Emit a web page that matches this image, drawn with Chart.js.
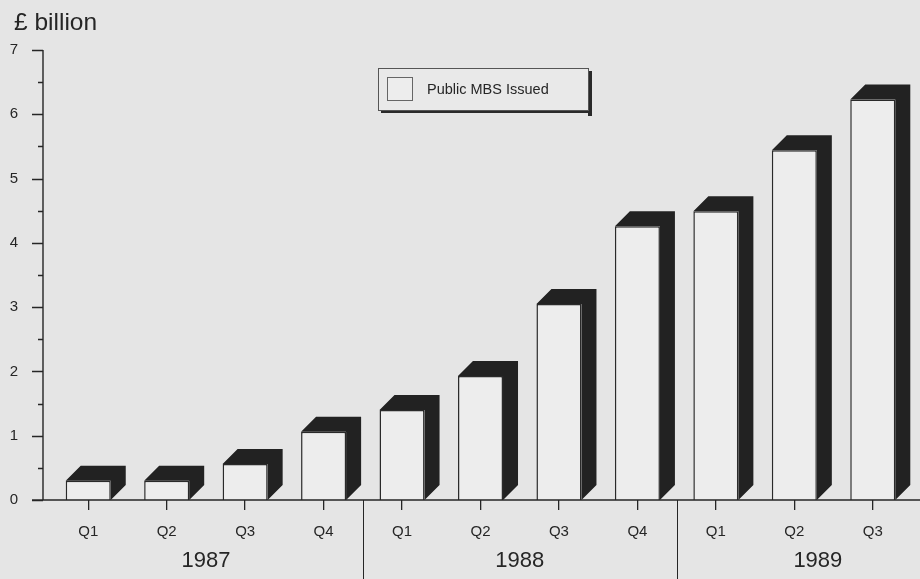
<!DOCTYPE html>
<html>
<head>
<meta charset="utf-8">
<title>Public MBS Issued</title>
<script src="https://cdn.jsdelivr.net/npm/chart.js@4/dist/chart.umd.min.js"></script>
<style>
  html, body { margin: 0; padding: 0; background: #e5e5e5; }
  canvas { display: block; }
</style>
</head>
<body>
<canvas id="chart" width="920" height="579"></canvas>
<script>
// Quarterly issuance of public mortgage-backed securities, £ billion
const quarters = ['Q1', 'Q2', 'Q3', 'Q4', 'Q1', 'Q2', 'Q3', 'Q4', 'Q1', 'Q2', 'Q3'];
const years = ['1987', '1988', '1989'];
const quartersPerYear = [4, 4, 3];
const issued = [0.3, 0.3, 0.56, 1.06, 1.4, 1.93, 3.05, 4.26, 4.49, 5.44, 6.23];
const yTicks = [0, 1, 2, 3, 4, 5, 6, 7];
const seriesLabel = 'Public MBS Issued';
const axisTitle = '£ billion';

const FONT = '"Liberation Sans", Arial, Helvetica, sans-serif';
const INK = '#262626';
const BG = '#e5e5e5';
const FRONT = '#ededed';
const SHADE = '#222222';
const DEPTH_X = 15, DEPTH_Y = 15;

// Paint the page-coloured background behind everything
const backdrop = {
  id: 'backdrop',
  beforeDraw(chart) {
    const c = chart.ctx;
    c.save();
    c.fillStyle = BG;
    c.fillRect(0, 0, chart.width, chart.height);
    c.restore();
  }
};

// Dark top and side faces giving each bar its 3-D block look
const extrude = {
  id: 'extrude',
  afterDatasetsDraw(chart) {
    const c = chart.ctx;
    const meta = chart.getDatasetMeta(0);
    c.save();
    c.fillStyle = SHADE;
    meta.data.forEach(bar => {
      const p = bar.getProps(['x', 'y', 'base', 'width'], true);
      const l = p.x - p.width / 2, r = p.x + p.width / 2;
      c.beginPath();
      c.moveTo(l, p.y);
      c.lineTo(l + DEPTH_X, p.y - DEPTH_Y);
      c.lineTo(r + DEPTH_X, p.y - DEPTH_Y);
      c.lineTo(r + DEPTH_X, p.base - DEPTH_Y);
      c.lineTo(r, p.base);
      c.lineTo(r, p.y);
      c.closePath();
      c.fill();
    });
    c.restore();
  }
};

// Axis lines, tick marks, year groups, axis title and the boxed legend
const frame = {
  id: 'frame',
  afterDraw(chart) {
    const c = chart.ctx;
    const xs = chart.scales.x, ys = chart.scales.y;
    const area = chart.chartArea;
    const axisX = area.left - 6;
    const y0 = ys.getPixelForValue(0);
    c.save();
    c.strokeStyle = INK;
    c.lineWidth = 1.4;

    // value axis with major and half-step ticks
    c.beginPath();
    c.moveTo(axisX, ys.getPixelForValue(yTicks[yTicks.length - 1]));
    c.lineTo(axisX, y0);
    yTicks.forEach(v => {
      const py = Math.round(ys.getPixelForValue(v)) + 0.5;
      c.moveTo(axisX - 11, py);
      c.lineTo(axisX, py);
      if (v < yTicks[yTicks.length - 1]) {
        const ph = Math.round(ys.getPixelForValue(v + 0.5)) + 0.5;
        c.moveTo(axisX - 5, ph);
        c.lineTo(axisX, ph);
      }
    });
    // category axis baseline
    c.moveTo(axisX - 11, y0);
    c.lineTo(chart.width, y0);
    c.stroke();

    // year separators and year labels
    c.lineWidth = 1;
    c.fillStyle = INK;
    c.font = '22px ' + FONT;
    c.textAlign = 'center';
    c.textBaseline = 'middle';
    const centreShift = [0, 0, 0.3];
    let start = 0;
    years.forEach((yr, i) => {
      const n = quartersPerYear[i];
      if (i > 0) {
        const sx = Math.round(xs.getPixelForValue(start - 0.5)) + 0.5;
        c.beginPath();
        c.moveTo(sx, y0);
        c.lineTo(sx, chart.height);
        c.stroke();
      }
      const mid = start + (n - 1) / 2 + centreShift[i];
      c.fillText(yr, xs.getPixelForValue(mid), y0 + 61);
      start += n;
    });

    // unit title
    c.textAlign = 'left';
    c.textBaseline = 'alphabetic';
    c.font = '24.5px ' + FONT;
    c.fillText(axisTitle, 14, 30);

    // legend box with drop shadow
    const lx = 378, ly = 68, lw = 210, lh = 42;
    c.fillStyle = '#2a2a2a';
    c.fillRect(lx + lw, ly + 3, 4, lh + 3);
    c.fillRect(lx + 3, ly + lh, lw + 1, 3);
    c.fillStyle = '#e9e9e9';
    c.fillRect(lx, ly, lw, lh);
    c.strokeStyle = '#555';
    c.strokeRect(lx + 0.5, ly + 0.5, lw, lh);
    c.fillStyle = FRONT;
    c.fillRect(387, 77, 25, 23);
    c.strokeStyle = '#666';
    c.strokeRect(387.5, 77.5, 25, 23);
    c.fillStyle = INK;
    c.font = '14.5px ' + FONT;
    c.textBaseline = 'middle';
    c.fillText(chart.data.datasets[0].label, 427, 90);
    c.restore();
  }
};

new Chart(document.getElementById('chart'), {
  type: 'bar',
  data: {
    labels: quarters,
    datasets: [{
      label: seriesLabel,
      data: issued,
      backgroundColor: FRONT,
      borderColor: '#2a2a2a',
      borderWidth: 1.5,
      borderSkipped: 'bottom',
      barPercentage: 0.574,
      categoryPercentage: 1
    }]
  },
  options: {
    responsive: false,
    animation: false,
    devicePixelRatio: 1,
    layout: { padding: { top: 50, right: 8, left: 0, bottom: 0 } },
    plugins: {
      legend: { display: false },
      tooltip: { enabled: false }
    },
    scales: {
      x: {
        type: 'category',
        offset: true,
        border: { display: false },
        grid: {
          offset: false,
          drawOnChartArea: false,
          drawTicks: true,
          tickLength: 10,
          color: INK,
          lineWidth: 1.3
        },
        ticks: {
          color: INK,
          font: { family: FONT, size: 15 },
          padding: 13,
          maxRotation: 0,
          autoSkip: false
        },
        afterFit(scale) { scale.height = 79; }
      },
      y: {
        min: 0,
        max: 7,
        border: { display: false },
        grid: { display: false, drawTicks: false },
        ticks: {
          stepSize: 1,
          color: INK,
          font: { family: FONT, size: 15 },
          padding: 31
        },
        afterBuildTicks(scale) { scale.ticks = yTicks.map(v => ({ value: v })); },
        afterFit(scale) { scale.width = 49; }
      }
    }
  },
  plugins: [backdrop, extrude, frame]
});
</script>
</body>
</html>
